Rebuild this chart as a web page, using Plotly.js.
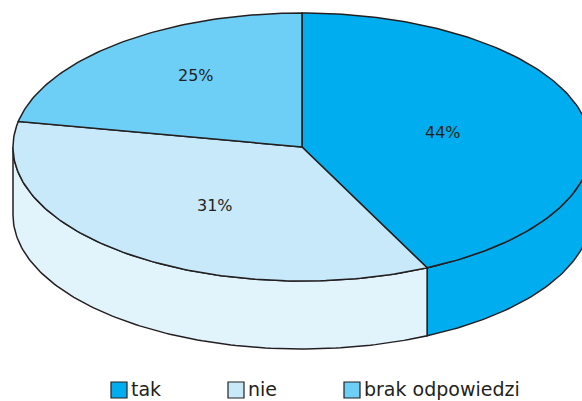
<!DOCTYPE html>
<html>
<head>
<meta charset="utf-8">
<script src="https://cdn.plot.ly/plotly-3.0.1.min.js"></script>
<style>html,body{margin:0;padding:0;background:#fff;}#chart{width:582px;height:401px;}</style>
</head>
<body>
<div id="chart"></div>
<script>
// ---- data ----
const categories = ['tak', 'nie', 'brak odpowiedzi'];
const values = [44, 31, 25];

// ---- style ----
const topColors  = ['#00AEEF', '#C7E9FA', '#6DCFF6'];
const sideColors = ['#00AEEF', '#E1F4FC', '#6DCFF6'];
const edge = '#231f20';
const font = 'DejaVu Sans, sans-serif';

// ---- geometry (layout constants, pixel space) ----
const W = 582, H = 401;
const cx = 302, cy = 147, rx = 289, ry = 134, depth = 68;
const persp = 11 * Math.PI / 180;      // perspective widening near the front
const labelR = [0.5, 0.53, 0.65];
const labelDA = [0, -3, 5];
const legendX = [111, 228, 344];
const legendY = 390, sq = 16;

const total = values.reduce((a, b) => a + b, 0);
const rad = d => d * Math.PI / 180;

function mapAngle(t) {
  const phi = rad(t - 180);
  return (phi + persp * Math.sin(phi)) * 180 / Math.PI + 180;
}
function pt(tDisp, dz) {
  return [cx + rx * Math.sin(rad(tDisp)), cy - ry * Math.cos(rad(tDisp)) + (dz || 0)];
}
function arc(a0, a1, dz) {
  const n = Math.max(2, Math.ceil(Math.abs(a1 - a0) / 1));
  const out = [];
  for (let i = 0; i <= n; i++) out.push(pt(a0 + (a1 - a0) * i / n, dz));
  return out;
}

const traces = [];
const annotations = [];
const shapes = [];

let cum = 0;
const ranges = values.map(v => {
  const a0 = mapAngle(360 * cum / total);
  cum += v;
  const a1 = mapAngle(360 * cum / total);
  return [a0, a1];
});

// side walls (front half only)
ranges.forEach(([a0, a1], i) => {
  const s = Math.max(a0, 90), e = Math.min(a1, 270);
  if (e <= s) return;
  const poly = arc(s, e, 0).concat(arc(e, s, depth));
  poly.push(poly[0]);
  traces.push({
    type: 'scatter', mode: 'lines', fill: 'toself',
    x: poly.map(p => p[0]), y: poly.map(p => p[1]),
    fillcolor: sideColors[i], line: {color: edge, width: 1.5},
    hoverinfo: 'skip', showlegend: false
  });
});

// top faces
ranges.forEach(([a0, a1], i) => {
  const poly = [[cx, cy]].concat(arc(a0, a1, 0));
  poly.push([cx, cy]);
  traces.push({
    type: 'scatter', mode: 'lines', fill: 'toself',
    x: poly.map(p => p[0]), y: poly.map(p => p[1]),
    fillcolor: topColors[i], line: {color: edge, width: 1.5},
    hoverinfo: 'skip', showlegend: false, name: categories[i]
  });
  const mid = (a0 + a1) / 2 + labelDA[i];
  annotations.push({
    x: cx + rx * labelR[i] * Math.sin(rad(mid)),
    y: cy - ry * labelR[i] * Math.cos(rad(mid)),
    xref: 'x', yref: 'y', text: values[i] + '%', showarrow: false,
    font: {family: font, size: 16, color: edge}
  });
});

// legend
categories.forEach((c, i) => {
  shapes.push({
    type: 'rect', xref: 'x', yref: 'y',
    x0: legendX[i], x1: legendX[i] + sq,
    y0: legendY - sq / 2, y1: legendY + sq / 2,
    fillcolor: topColors[i], line: {color: edge, width: 1.2}
  });
  annotations.push({
    x: legendX[i] + sq + 2, y: legendY - 1, xref: 'x', yref: 'y',
    xanchor: 'left', yanchor: 'middle', text: c, showarrow: false,
    font: {family: font, size: 19, color: edge}
  });
});

const layout = {
  width: W, height: H,
  margin: {l: 0, r: 0, t: 0, b: 0},
  paper_bgcolor: '#ffffff', plot_bgcolor: '#ffffff',
  xaxis: {range: [0, W], visible: false, showgrid: false, zeroline: false},
  yaxis: {range: [H, 0], visible: false, showgrid: false, zeroline: false},
  showlegend: false, hovermode: false,
  annotations: annotations, shapes: shapes
};

Plotly.newPlot('chart', traces, layout, {staticPlot: true, displayModeBar: false});
</script>
</body>
</html>
